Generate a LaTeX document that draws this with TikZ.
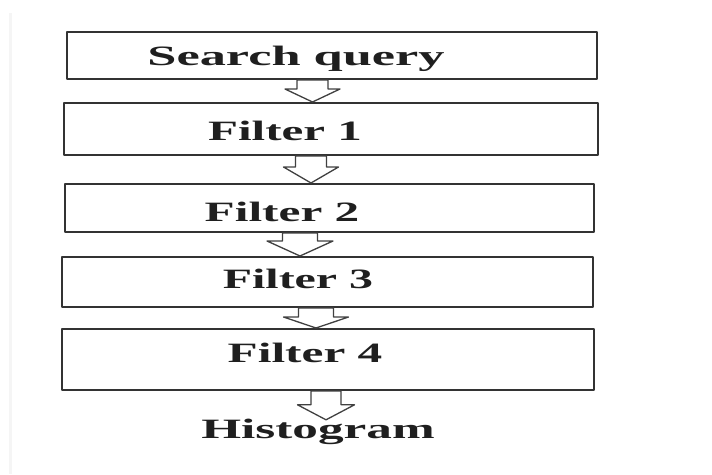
\documentclass[tikz,border=0pt]{standalone}
\usepackage{fontspec}
\setmainfont{Liberation Serif}
\usetikzlibrary{calc}
\newcommand{\wtext}[2][1.76]{\scalebox{#1}[1]{\bfseries #2}}
% hollow block arrow: from, to, x centre, shaft half width, head half width, head length
\newcommand{\hollowarrow}[6]{%
  \draw[arw] let \p1=(#1.south), \p2=(#2.north) in
    (#3pt-#4pt,\y1) -- (#3pt-#4pt,\y2+#6pt) -- (#3pt-#5pt,\y2+#6pt) -- (#3pt,\y2)
    -- (#3pt+#5pt,\y2+#6pt) -- (#3pt+#4pt,\y2+#6pt) -- (#3pt+#4pt,\y1) -- cycle;}

\begin{document}
\begin{tikzpicture}[x=1pt, y=-1pt, line join=round,
	box/.style={draw=black!80, line width=2pt, inner sep=0pt},
	lbl/.style={font=\fontsize{28}{30}\selectfont, text=black!88, text height=18pt, text depth=0pt, inner sep=0pt},
	arw/.style={draw=black!75, line width=1.3pt, fill=white}]
	\useasboundingbox (0,0) rectangle (712,474);
	
	% [faint page edge]
	\draw[gray!8, line width=3pt] (10,13) -- (10,474);
	
	% [boxes]
	\node[box, minimum width=530pt, minimum height=47pt, label={[lbl, xshift=-36pt, yshift=-1pt]center:\wtext[1.87]{Search query}}] (sq) at (332,55.5) {};
	\node[box, minimum width=534pt, minimum height=52pt, label={[lbl, xshift=-46pt, yshift=-2pt]center:\wtext[1.75]{Filter 1}}] (f1) at (331,129) {};
	\node[box, minimum width=529pt, minimum height=48pt, label={[lbl, xshift=-47.5pt, yshift=-4.5pt]center:\wtext{Filter 2}}] (f2) at (329.5,208) {};
	\node[box, minimum width=531pt, minimum height=50pt, label={[lbl, xshift=-29.5pt, yshift=2.5pt]center:\wtext[1.71]{Filter 3}}] (f3) at (327.5,282) {};
	\node[box, minimum width=532pt, minimum height=61pt, label={[lbl, xshift=-23pt, yshift=6pt]center:\wtext{Filter 4}}] (f4) at (328,359.5) {};
	\node[lbl] (hist) at (318,429) {\wtext[1.83]{Histogram}};
	
	% [arrows]
	\hollowarrow{sq}{f1}{312.5}{15.5}{27.5}{13}
	\hollowarrow{f1}{f2}{311}{15.5}{27.5}{16}
	\hollowarrow{f2}{f3}{300}{17.5}{33}{15}
	\hollowarrow{f3}{f4}{316}{17.5}{32.5}{11}
	\hollowarrow{f4}{hist}{326}{15}{28.5}{15}
\end{tikzpicture}
\end{document}
